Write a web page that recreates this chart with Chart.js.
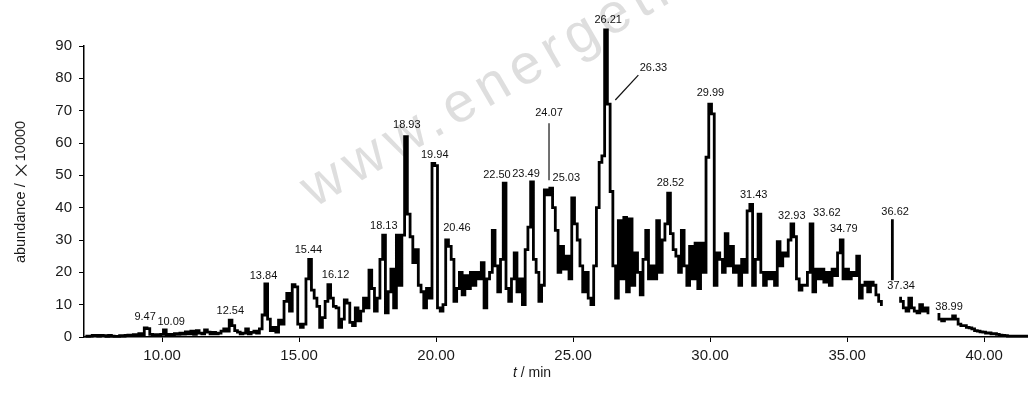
<!DOCTYPE html>
<html><head><meta charset="utf-8">
<script src="https://cdn.jsdelivr.net/npm/chart.js@4.4.0/dist/chart.umd.min.js"></script>
<style>html,body{margin:0;padding:0;background:#fff}#wrap{width:1028px;height:394px}</style>
</head><body><div id="wrap"><canvas id="c" width="1028" height="394"></canvas></div>
<script>
// retention-time sampling grid of the trace
const startTime = 7.2;
const timeStep = 0.1;
// abundance (x10000), one value per grid step, null = gap in trace
const abundance = [
 0.3,0.2,0.3,0.5,0.5,0.3,0.5,0.4,
 0.2,0.5,0.3,0.2,0.2,0.4,0.3,0.5,0.6,0.4,
 0.7,0.5,1.0,0.6,2.8,2.6,0.8,0.6,0.7,0.5,
 0.8,2.2,0.6,0.8,0.6,1.0,0.8,1.2,0.9,1.6,
 1.0,1.8,0.8,2.0,1.2,1.0,2.2,1.5,1.0,1.4,
 1.0,1.2,1.8,2.5,1.8,5.2,3.5,2.0,1.5,1.0,
 1.2,2.5,1.0,1.4,1.8,1.2,2.5,6.8,16.4,5.5,
 2.0,3.0,1.5,5.2,4.0,11.0,13.5,8.0,16.2,15.5,
 4.0,3.0,4.0,18.0,24.0,14.5,12.0,9.5,3.0,6.0,
 11.0,16.2,12.0,9.5,9.0,3.0,5.5,11.5,10.5,4.5,
 3.5,9.0,5.0,8.0,12.0,9.0,20.7,15.0,8.0,12.0,
 24.0,31.5,7.5,14.0,21.0,9.0,31.5,16.0,31.5,62.0,
 38.0,31.0,23.0,27.0,16.0,14.0,9.0,15.0,12.0,53.7,
 53.0,9.0,8.0,10.0,30.0,28.0,24.0,11.0,15.0,20.0,
 13,19,15,20,16,20,18,23,9,18,
 20,33,22,14,24,47.6,15,11,18,26,
 14,18,10,27,34,48,24,20,11,16,
 45.5,44,46,40,33,20,28,21,25,18,
 43,35,30,22,14,20,12,10,22,40,
 54,56,95,72,45,22,12,36,18,37,
 14,36.5,16,26,20,13,24,33,18,22,
 18,36,20,30,35,44.5,32,27,25,20,
 33,22,16,28,18,29,15,29,20,55.6,
 72,69,16,26,24,20,32,22,28,20,
 22,16,24,20,39,41,16,24,38,20,
 16,20,18,20,16,29.5,22,26,25,30,
 35,31,18,14.5,16,16,20,35,14,21,
 18,21,17,20,16,21,19,26,30,18,
 21,18,20,19,25,12,16,17,14,17,
 16,13,11,10,null,null,36,18,null,12,
 11,9,8,12,9,8,7.5,10,8,9,
 7.5,null,null,7,5.5,5,5.5,5.5,5.5,6.5,
 5.5,4,3.5,3.5,3,2.8,2.5,2,1.8,1.6,
 1.5,1.2,1.3,1.0,1.0,0.8,0.6,0.5,0.4,0.3,
 0.3,0.3,0.3,0.3,0.3,0.3,0.3
];
const xTickValues = [10,15,20,25,30,35,40];
const yTickValues = [0,10,20,30,40,50,60,70,80,90];
// peak labels: text and anchor (time, abundance)
const peakTexts  = ['9.47','10.09','12.54','13.84','15.44','16.12','18.13','18.93','19.94','20.46','22.50','23.49','24.07','25.03','26.21','26.33','28.52','29.99','31.43','32.93','33.62','34.79','36.62','37.34','38.99'];
const peakLabelT = [9.38,10.33,12.49,13.70,15.34,16.33,18.09,18.93,19.95,20.76,22.22,23.28,24.12,24.75,26.28,27.93,28.55,30.01,31.59,32.98,34.26,34.88,36.75,36.97,38.72];
const peakLabelV = [6.2,4.6,8.0,18.9,26.9,19.2,34.3,65.5,56.3,33.7,50.1,50.4,69.2,49.1,98.0,83.2,47.6,75.4,43.9,37.4,38.3,33.4,38.6,15.8,9.3];
// leader lines (t1, v1, t2, v2)
const leaderLines = [[24.12,66.1,24.12,48.5],[27.38,81.0,26.54,73.3]];

const points = abundance.map((v,i)=>({x:+(startTime+i*timeStep).toFixed(2), y:v}));
const FONT = "'Liberation Sans', Arial, sans-serif";

const decor = {
  id:'decor',
  beforeDatasetsDraw(chart){
    const ctx = chart.ctx;
    ctx.save();
    ctx.translate(314,208);
    ctx.rotate(-30*Math.PI/180);
    ctx.font = "56px "+FONT;
    ctx.letterSpacing = '7px';
    ctx.fillStyle = 'rgba(200,200,200,0.6)';
    ctx.textBaseline = 'alphabetic';
    ctx.fillText('www.energetic', 0, 0);
    ctx.restore();
  },
  afterDatasetsDraw(chart){
    const ctx = chart.ctx, xs = chart.scales.x, ys = chart.scales.y;
    ctx.save();
    ctx.font = "11px "+FONT;
    ctx.fillStyle = '#111';
    ctx.textAlign = 'center';
    ctx.textBaseline = 'middle';
    peakTexts.forEach((t,i)=>{
      ctx.fillText(t, xs.getPixelForValue(peakLabelT[i]), ys.getPixelForValue(peakLabelV[i]));
    });
    ctx.strokeStyle = '#111';
    ctx.lineWidth = 1.2;
    leaderLines.forEach(l=>{
      ctx.beginPath();
      ctx.moveTo(xs.getPixelForValue(l[0]), ys.getPixelForValue(l[1]));
      ctx.lineTo(xs.getPixelForValue(l[2]), ys.getPixelForValue(l[3]));
      ctx.stroke();
    });
    ctx.restore();
  },
  afterDraw(chart){
    const ctx = chart.ctx, a = chart.chartArea;
    ctx.save();
    ctx.fillStyle = '#1a1a1a';
    ctx.textBaseline = 'middle';
    // x title
    const p1 = 't', p2 = ' / min';
    ctx.font = "italic 14px "+FONT;
    const w1 = ctx.measureText(p1).width;
    ctx.font = "14px "+FONT;
    const w2 = ctx.measureText(p2).width;
    const cx = (a.left+a.right)/2 - 24, cy = 373;
    let x0 = cx - (w1+w2)/2;
    ctx.textAlign = 'left';
    ctx.font = "italic 14px "+FONT;
    ctx.fillText(p1, x0, cy);
    ctx.font = "14px "+FONT;
    ctx.fillText(p2, x0+w1, cy);
    // y title
    ctx.translate(21, 192);
    ctx.rotate(-Math.PI/2);
    const s1 = 'abundance / ', s2 = '×', s3 = '10000';
    ctx.font = "14.5px "+FONT;
    const a1 = ctx.measureText(s1).width, a3 = ctx.measureText(s3).width;
    ctx.font = "18px 'Noto Sans CJK SC', "+FONT;
    const a2 = ctx.measureText(s2).width;
    let y0 = -(a1+a2+a3)/2;
    ctx.font = "14.5px "+FONT;
    ctx.fillText(s1, y0, 0);
    ctx.font = "18px 'Noto Sans CJK SC', "+FONT;
    ctx.fillText(s2, y0+a1, 0);
    ctx.font = "14.5px "+FONT;
    ctx.fillText(s3, y0+a1+a2, 0);
    ctx.restore();
  }
};

new Chart(document.getElementById('c'), {
  type:'line',
  data:{ datasets:[{
    data: points,
    borderColor:'#000',
    borderWidth:2.8,
    stepped:'middle',
    pointRadius:0,
    spanGaps:false,
    clip:false,
    fill:false
  }]},
  options:{
    responsive:false,
    animation:false,
    layout:{padding:{left:0,right:0,top:46,bottom:0}},
    plugins:{legend:{display:false}, tooltip:{enabled:false}},
    scales:{
      x:{
        type:'linear', min:7.15, max:41.6,
        afterBuildTicks(s){ s.ticks = xTickValues.map(v=>({value:v})); },
        afterFit(s){ s.height = 57; },
        ticks:{ callback:v=>Number(v).toFixed(2), font:{family:FONT,size:15}, color:'#1a1a1a', padding:5, maxRotation:0, autoSkip:false },
        grid:{ display:true, drawOnChartArea:false, drawTicks:true, tickLength:5, color:'#000', lineWidth:1 },
        border:{ display:true, color:'#000', width:1.5 }
      },
      y:{
        min:0, max:90,
        afterBuildTicks(s){ s.ticks = yTickValues.map(v=>({value:v})); },
        afterFit(s){ s.width = 84; },
        ticks:{ font:{family:FONT,size:15}, color:'#1a1a1a', padding:7 },
        grid:{ display:true, drawOnChartArea:false, drawTicks:true, tickLength:5, color:'#000', lineWidth:1 },
        border:{ display:true, color:'#000', width:1.5 }
      }
    }
  },
  plugins:[decor]
});
</script></body></html>
